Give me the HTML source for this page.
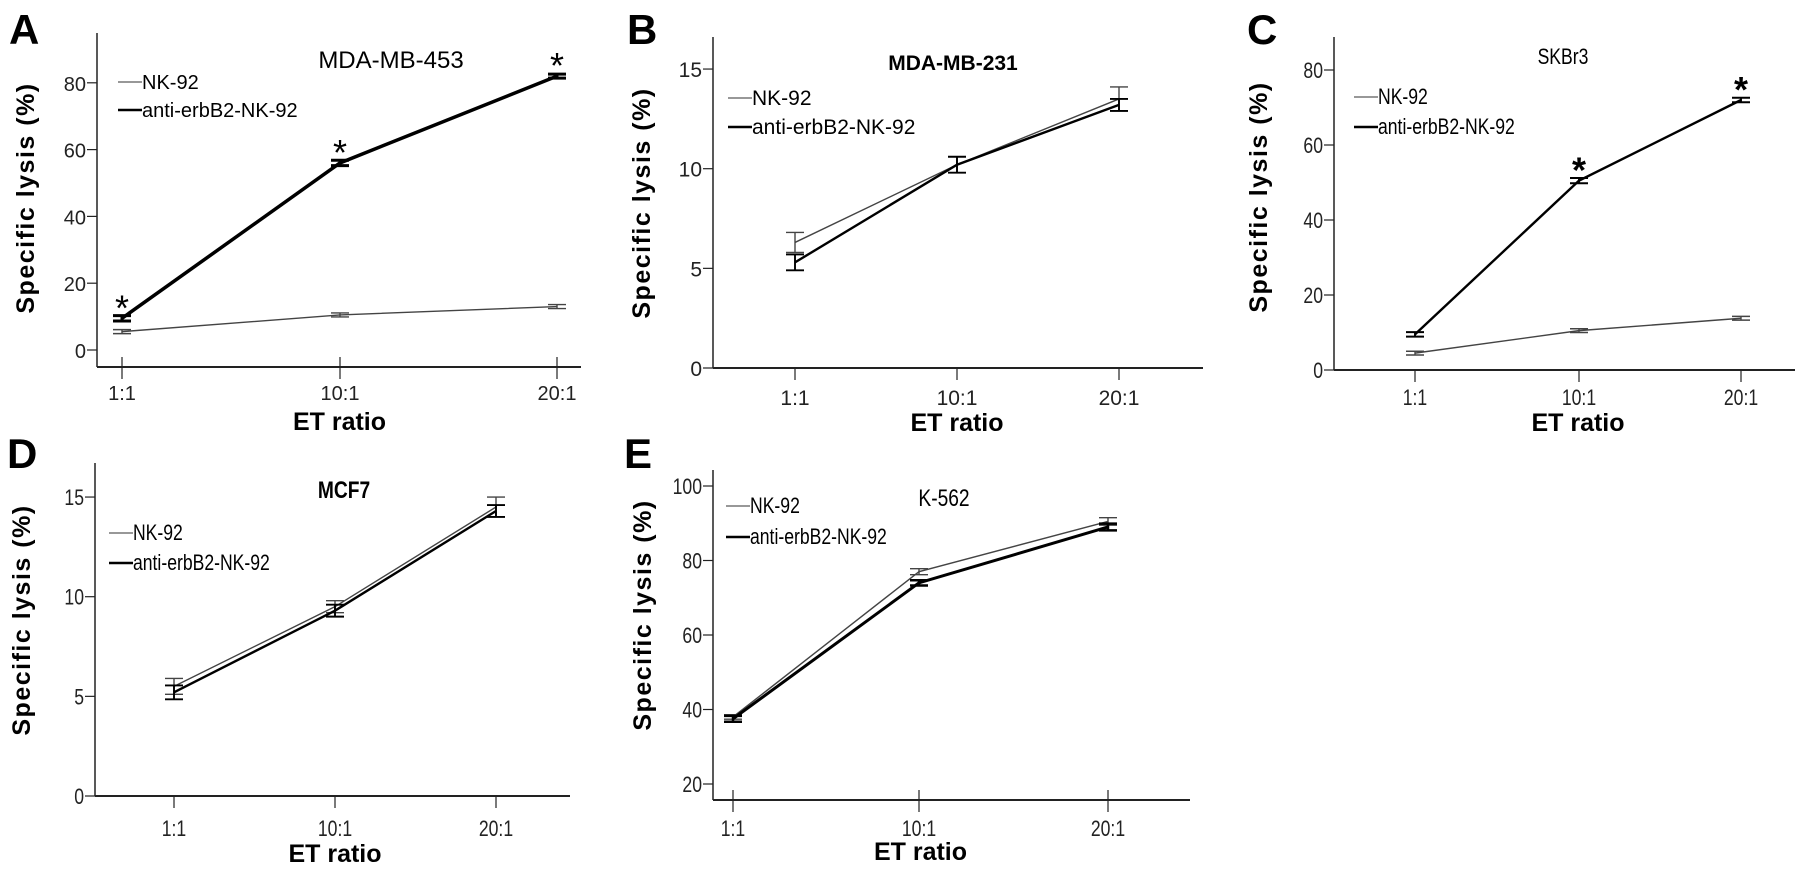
<!DOCTYPE html>
<html><head><meta charset="utf-8"><style>
html,body{margin:0;padding:0;background:#fff;}
svg{display:block;font-family:"Liberation Sans",sans-serif;}
</style></head><body>
<svg id="fig" width="1795" height="886" viewBox="0 0 1795 886"></svg>
<script>
const categories = ["1:1","10:1","20:1"];
const nkA = [5.5,10.5,13]; const antiA = [9.5,56,82];
const nkB = [6.3,10.2,13.5]; const antiB = [5.3,10.2,13.2];
const nkC = [4.5,10.5,13.8]; const antiC = [9.5,50.5,72];
const nkD = [5.5,9.5,14.5]; const antiD = [5.2,9.3,14.3];
const nkE = [38,77,90.5]; const antiE = [37.5,74,89];
const errNkA=[0.6,0.6,0.6], errAntiA=[0.8,0.8,0.6];
const errNkB=[0.5,0.4,0.6], errAntiB=[0.4,0.4,0.3];
const errNkC=[0.5,0.5,0.5], errAntiC=[0.6,0.7,0.6];
const errNkD=[0.4,0.3,0.5], errAntiD=[0.35,0.3,0.3];
const errNkE=[0.6,0.8,1], errAntiE=[0.8,0.7,0.9];
const ticksA=[0,20,40,60,80], ticksB=[0,5,10,15], ticksC=[0,20,40,60,80], ticksD=[0,5,10,15], ticksE=[20,40,60,80,100];
const starsA=[0,1,2], starsC=[1,2];

const NS="http://www.w3.org/2000/svg";
const svg=document.getElementById('fig');
function el(tag,attrs,parent,text){const e=document.createElementNS(NS,tag);for(const k in attrs)e.setAttribute(k,attrs[k]);if(text!==undefined)e.textContent=text;(parent||svg).appendChild(e);return e;}

function panel(p){
  const g=el('g',{});
  
  
  const y=v=>p.y0px-(v-p.vmin)*p.ppu;
  const x=i=>p.xs[i];
  const cond=p.cond?`scale(${p.cond},1)`:'';
  function ctext(tx,ty,attrs,txt){
    const a=Object.assign({},attrs);
    if(p.cond){a.x=tx/p.cond;a.y=ty;a.transform=cond;} else {a.x=tx;a.y=ty;}
    return el('text',a,g,txt);
  }
  const L=el('text',{x:p.lx,y:p.ly,'font-size':42,'font-weight':'bold'},g,p.letter);
  
  
  const ya=el('line',{x1:p.ax,y1:p.top,x2:p.ax,y2:p.bx,stroke:'#222','stroke-width':1.5},g);
  
  
  const xa=el('line',{x1:p.ax,y1:p.bx,x2:p.xend,y2:p.bx,stroke:'#222','stroke-width':2},g);
  
  
  p.ticks.forEach(t=>{
    el('line',{x1:p.ax-10,y1:y(t),x2:p.ax,y2:y(t),stroke:'#222','stroke-width':1.2},g);
    const tl=ctext(p.ax-11,y(t)+8,{'font-size':p.tfs,'text-anchor':'end',fill:'#222'},t);
    
    
  });
  categories.forEach((c,i)=>{
    el('line',{x1:x(i),y1:p.bx-(p.cross?10:0),x2:x(i),y2:p.bx+12,stroke:'#222','stroke-width':1.2},g);
    const tl=ctext(x(i),p.tly,{'font-size':p.tfs,'text-anchor':'middle',fill:'#222'},c);
    
    
  });
  const xt=el('text',{x:(x(0)+x(2))/2,y:p.ety,'font-size':25,'font-weight':'bold','text-anchor':'middle'},g,'ET ratio');
  
  
  const yt=el('text',{x:0,y:0,'font-size':25,'font-weight':'bold','text-anchor':'middle',
    transform:`translate(${p.ylx},${p.ylc}) rotate(-90)`,'letter-spacing':1.5},g,'Specific lysis (%)');
  
  
  const ti=ctext(p.tx,p.ty,{'font-size':p.tsz,'font-weight':p.tbold?'bold':'normal','text-anchor':'middle'},p.title);
  
  
  [[p.nk,p.enk,'#444',1.4,'nk-92'],[p.anti,p.eanti,'#000',p.thick,'anti-erbb2-nk-92']].forEach(([d,e,col,w,nm])=>{
    const pl=el('polyline',{points:d.map((v,i)=>x(i)+','+y(v)).join(' '),fill:'none',stroke:col,'stroke-width':w},g);
    
    
    d.forEach((v,i)=>{
      const eb=el('path',{d:`M${x(i)-9},${y(v+e[i])}H${x(i)+9}M${x(i)},${y(v+e[i])}V${y(v-e[i])}M${x(i)-9},${y(v-e[i])}H${x(i)+9}`,stroke:col,'stroke-width':Math.max(1.4,w-0.5),fill:'none'},g);
      
      
    });
  });
  (p.stars||[]).forEach(i=>{
    const s=el('text',{x:x(i),y:y(p.anti[i])+2,'font-size':36,'text-anchor':'middle','font-weight':p.sbold?'bold':'normal'},g,'*');
    
    
  });
  [['NK-92','#777',1.4,0],['anti-erbB2-NK-92','#000',2.5,p.lgdy]].forEach(([t,c,w,dy])=>{
    const lg=el('g',{},g);
    
    
    el('line',{x1:p.lgx,y1:p.lgy+dy,x2:p.lgx+24,y2:p.lgy+dy,stroke:c,'stroke-width':w},lg);
    const a={'font-size':p.lfs};
    if(p.cond){a.x=(p.lgx+24)/p.cond;a.transform=cond;}else a.x=p.lgx+24;
    a.y=p.lgy+dy+7;
    el('text',a,lg,t);
  });
}

panel({letter:'A',lx:9,ly:44,ax:97,top:33,bx:367,xend:581,y0px:350,vmin:0,ppu:3.34,xs:[122,340,557],cross:true,
  ticks:ticksA,tfs:20,tly:400,ety:430,ylx:34,ylc:198,title:'MDA-MB-453',tx:391,ty:68,tsz:24,tbold:false,sbold:false,
  nk:nkA,anti:antiA,enk:errNkA,eanti:errAntiA,thick:3.5,stars:starsA,lgx:118,lgy:82,lgdy:28,lfs:20});
panel({letter:'B',lx:627,ly:44,ax:713,top:37,bx:368,xend:1203,y0px:368,vmin:0,ppu:19.93,xs:[795,957,1119],cross:false,
  ticks:ticksB,tfs:21,tly:405,ety:431,ylx:650,ylc:203,title:'MDA-MB-231',tx:953,ty:70,tsz:21,tbold:true,
  nk:nkB,anti:antiB,enk:errNkB,eanti:errAntiB,thick:2.4,lgx:728,lgy:98,lgdy:29,lfs:21});
panel({letter:'C',lx:1247,ly:44,ax:1334,top:37,bx:370,xend:1795,y0px:370,vmin:0,ppu:3.75,xs:[1415,1579,1741],cross:false,cond:0.8,
  ticks:ticksC,tfs:22,tly:405,ety:431,ylx:1267,ylc:197,title:'SKBr3',tx:1563,ty:64,tsz:22,tbold:false,sbold:true,
  nk:nkC,anti:antiC,enk:errNkC,eanti:errAntiC,thick:2.4,stars:starsC,lgx:1354,lgy:97,lgdy:30,lfs:22});
panel({letter:'D',lx:7,ly:468,ax:95,top:463,bx:796,xend:570,y0px:796,vmin:0,ppu:19.93,xs:[174,335,496],cross:false,cond:0.8,
  ticks:ticksD,tfs:22,tly:836,ety:862,ylx:30,ylc:620,title:'MCF7',tx:344,ty:498,tsz:24,tbold:true,
  nk:nkD,anti:antiD,enk:errNkD,eanti:errAntiD,thick:2.4,lgx:109,lgy:533,lgdy:30,lfs:22});
panel({letter:'E',lx:624,ly:468,ax:713,top:470,bx:800,xend:1190,y0px:784,vmin:20,ppu:3.725,xs:[733,919,1108],cross:true,cond:0.8,
  ticks:ticksE,tfs:22,tly:836,ety:860,ylx:651,ylc:615,title:'K-562',tx:944,ty:506,tsz:24,tbold:false,
  nk:nkE,anti:antiE,enk:errNkE,eanti:errAntiE,thick:3,lgx:726,lgy:506,lgdy:31,lfs:22});
</script>
</body></html>
